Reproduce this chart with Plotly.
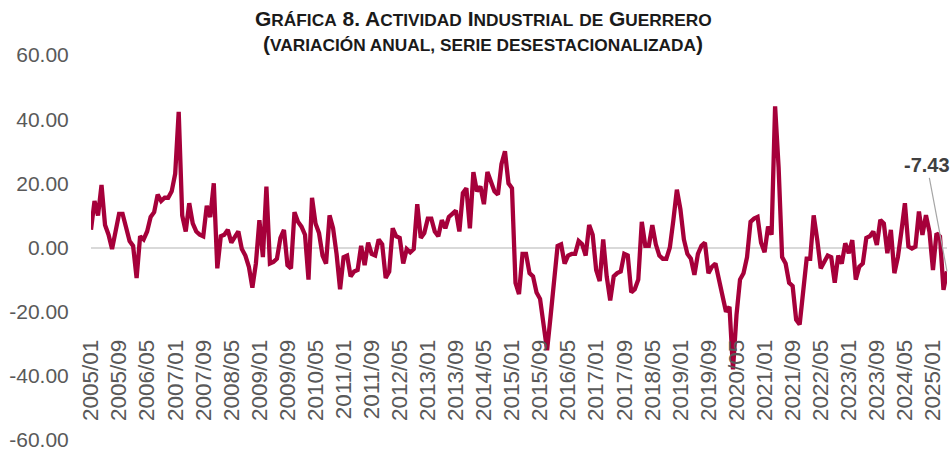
import pandas as pd
import plotly.graph_objects as go

# Monthly dates 2005/01 .. 2025/05
months = [d.strftime("%Y/%m") for d in pd.date_range("2005-01-01", "2025-05-01", freq="MS")]

# Annual variation (%), seasonally adjusted
values = [
    5.5, 14.5, 10, 19.5, 7, 4, -0.5, 5, 10.5, 10.5, 6, 2,
    0.5, -9.5, 3.5, 2.5, 5, 9.5, 11, 16.5, 14.5, 15.5, 15.5, 17.5,
    23, 42.3, 10, 5, 13.8, 7.5, 5, 4, 3.5, 13, 9.5, 20,
    -6.5, 3.5, 4, 5.5, 1.5, 3.5, 5, -0.5, -2.5, -6, -12.5, -5,
    8.5, -3, 19, -5, -4.5, -3.5, 3, 5.5, -5.5, -6.5, 11, 8,
    6.5, 4, -10, 15.5, 7.5, 4.5, -2.5, -5, 10, 6, -2, -13,
    -3, -2.5, -9, -7.5, -7, 0.5, -5.5, 1.5, -2, -2.5, 2.5, 1,
    -9.5, -7.5, 6, 3.5, 3, -5, -0.5, -1.5, -0.5, 13.5, 3, 4.5,
    9, 9, 5, 3.5, 8.5, 6, 9.5, 10.5, 11.5, 5, 17, 18.5,
    6, 23.5, 17.5, 19, 13.5, 23.5, 20, 17.5, 16.5, 26, 30, 20,
    18.5, -11, -14.5, -2, -2, -8, -9, -14, -16, -25, -32, -21.5,
    -10, 0.5, 1, -5, -2.5, -2, -2, 2, 1, -2.5, 7, 4,
    -7, -10.5, 2.5, -9, -16.5, -9, -8, -7.5, -2, -2.5, -14, -13,
    -10, 8, 0.5, 0.5, 7, 1, -2.5, -3.5, -3.5, 0, 8.5, 18,
    12, 2.5, -2, -3.5, -8.5, -2, 0.5, 1.5, -8, -6, -5, -10.5,
    -16, -20, -18.5, -38, -21, -10, -8, -3, 8, 9, 9.5, 1.5,
    -1.5, 6.5, 4, 44, 25, -3, -5, -11, -12, -22.5, -24, -13,
    -3.5, -3.5, 10, 2.5, -6.5, -4.5, -2.5, -3, -11, -2.5, -5, 1.3,
    -1.8, 2.3, -10, -6, -5, 3, 3.5, 5, 0.8, 8.6, 7.5, -1.8,
    5.5, -8, -3, 5, 13.8, 0.3, -0.3, 0.3, 11.2, 3.9, 10.1, 4.9,
    -7, 4.4, 3.4, -13.2, -7.43,
]

x_idx = list(range(len(values)))
tick_idx = list(range(0, len(values), 8))
tick_text = [months[i] for i in tick_idx]
y_ticks = [-60, -40, -20, 0, 20, 40, 60]
y_tick_text = [f"{v:.2f}" for v in y_ticks]

LINE_COLOR = "#A6003A"
TICK_COLOR = "#595959"

PLOT_L, PLOT_R, PLOT_T, PLOT_B = 91, 947, 55, 440
W, H = 952, 450

fig = go.Figure()
fig.add_trace(go.Scatter(
    x=x_idx, y=values, mode="lines",
    line=dict(color=LINE_COLOR, width=4.3),
    hoverinfo="skip", showlegend=False,
))

sc = "font-size:17.3px"
title1 = (f"G<span style='{sc}'>RÁFICA</span> 8. A<span style='{sc}'>CTIVIDAD</span> "
          f"I<span style='{sc}'>NDUSTRIAL</span> <span style='{sc}'>DE</span> "
          f"G<span style='{sc}'>UERRERO</span>")
title2 = f"(<span style='{sc}'>VARIACIÓN ANUAL, SERIE DESESTACIONALIZADA</span>)"

title_font = dict(family="Liberation Sans, Arial, sans-serif", size=21, color="#1a1a1a")

pw = PLOT_R - PLOT_L
ph = PLOT_B - PLOT_T

fig.update_layout(
    width=W, height=H,
    margin=dict(l=PLOT_L, r=W - PLOT_R, t=PLOT_T, b=H - PLOT_B),
    paper_bgcolor="white", plot_bgcolor="white",
    font=dict(family="Liberation Sans, Arial, sans-serif", color=TICK_COLOR),
    xaxis=dict(
        range=[0, len(values) - 1], automargin=False,
        tickmode="array", tickvals=tick_idx, ticktext=tick_text,
        tickangle=-90, tickfont=dict(size=22.5, color=TICK_COLOR),
        showgrid=False, zeroline=False, showline=False, ticks="",
        anchor="free", position=0.275, ticklabeloverflow="allow",
    ),
    yaxis=dict(
        range=[-60, 60], automargin=False, tickmode="array",
        tickvals=y_ticks, ticktext=y_tick_text,
        tickfont=dict(size=21, color=TICK_COLOR),
        showgrid=False, zeroline=True, zerolinecolor="#D9D9D9", zerolinewidth=2,
        showline=False, ticks="outside", ticklen=17, tickcolor="rgba(0,0,0,0)",
        ticklabeloverflow="allow",
    ),
    annotations=[
        dict(text=f"<b>{title1}</b>", xref="paper", yref="paper",
             x=(483 - PLOT_L) / pw, y=(PLOT_B - 18.5) / ph,
             xanchor="center", yanchor="middle", showarrow=False, font=title_font),
        dict(text=f"<b>{title2}</b>", xref="paper", yref="paper",
             x=(483 - PLOT_L) / pw, y=(PLOT_B - 43) / ph,
             xanchor="center", yanchor="middle", showarrow=False, font=title_font),
        dict(text=f"<b>{values[-1]:.2f}</b>", x=x_idx[-1], y=values[-1], xref="x", yref="y",
             showarrow=True, arrowhead=0, arrowwidth=1.2, arrowcolor="#A6A6A6",
             ax=-20, ay=-106, font=dict(size=20, color="#404040")),
    ],
)

fig.write_html(
    "out.html",
    config={"displayModeBar": False, "staticPlot": True},
    post_script="document.body.style.margin='0';document.body.style.overflow='hidden';",
)
